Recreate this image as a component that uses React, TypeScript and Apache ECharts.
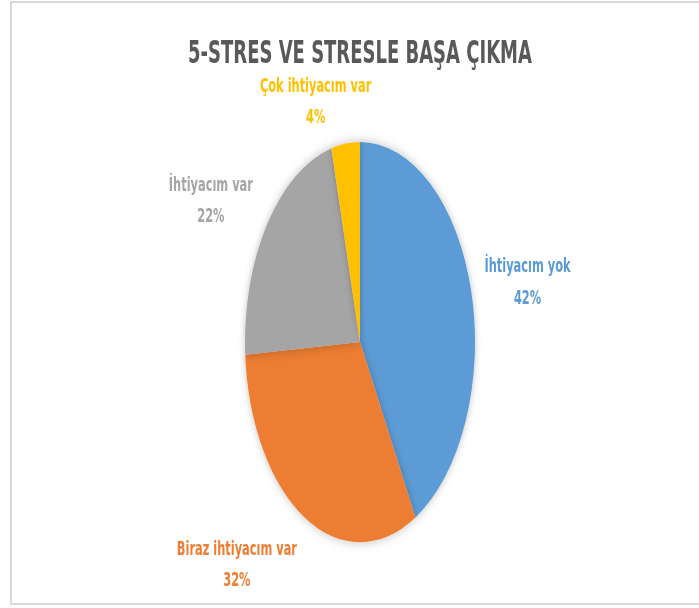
import React, { useEffect, useRef } from "react";
import * as echarts from "echarts";

const title = "5-STRES VE STRESLE BAŞA ÇIKMA";
const categories = ["İhtiyacım yok", "Biraz ihtiyacım var", "İhtiyacım var", "Çok ihtiyacım var"];
const values = [42, 32, 22, 4];
const colors = ["#5B9BD5", "#ED7D31", "#A5A5A5", "#FFC000"];
// label nudges (style only)
const labelOffX = [-11.6, 12.2, 9, 42];
const labelOffY = [-3.8, 18, -8.2, -14.6];

const K = 1.74; // vertical stretch of the reference picture
const W = 699;
const H = 608 / K;
const FONT = "'DejaVu Sans', sans-serif";

export default function App() {
  const ref = useRef<HTMLDivElement>(null);
  useEffect(() => {
    if (!ref.current) return;
    const chart = echarts.init(ref.current, null, { renderer: "svg" });
    chart.setOption({
      animation: false,
      title: {
        text: title,
        left: 355,
        top: 25,
        textAlign: "center",
        textVerticalAlign: "middle",
        textStyle: {
          fontFamily: FONT,
          fontWeight: "bold",
          fontSize: 18,
          color: "#595959",
        },
      },
      series: [
        {
          type: "pie",
          center: [360, 196.6],
          radius: 115,
          startAngle: 90,
          clockwise: true,
          data: categories.map((c, i) => ({
            name: c,
            value: values[i],
            itemStyle: { color: colors[i] },
            label: { color: colors[i] },
          })),
          itemStyle: {
            shadowBlur: 6,
            shadowColor: "rgba(0,0,0,0.25)",
          },
          label: {
            show: true,
            position: "outside",
            formatter: "{b}\n{d}%",
            fontFamily: FONT,
            fontWeight: "bold",
            fontSize: 11.4,
            lineHeight: 18,
            distanceToLabelLine: 5,
          },
          labelLine: { show: false, length: 10, length2: 10 },
          labelLayout: (p: any) => {
            const i = p.dataIndex;
            const r = p.labelRect;
            return {
              x: r.x + r.width / 2 + labelOffX[i],
              y: r.y + r.height / 2 + labelOffY[i],
              align: "center",
              verticalAlign: "middle",
            };
          },
          emphasis: { disabled: true },
        },
      ],
    });
    return () => chart.dispose();
  }, []);

  return (
    <div style={{ position: "fixed", left: 0, top: 0, width: W, height: 608, background: "#fff", overflow: "hidden" }}>
      <div
        style={{
          position: "absolute",
          left: 10,
          top: 1,
          width: 700,
          height: 604,
          border: "2px solid #d9d9d9",
          boxSizing: "border-box",
        }}
      />
      <div
        ref={ref}
        style={{
          position: "absolute",
          left: 0,
          top: 0,
          width: W,
          height: H,
          transform: `scaleY(${K})`,
          transformOrigin: "0 0",
        }}
      />
    </div>
  );
}
